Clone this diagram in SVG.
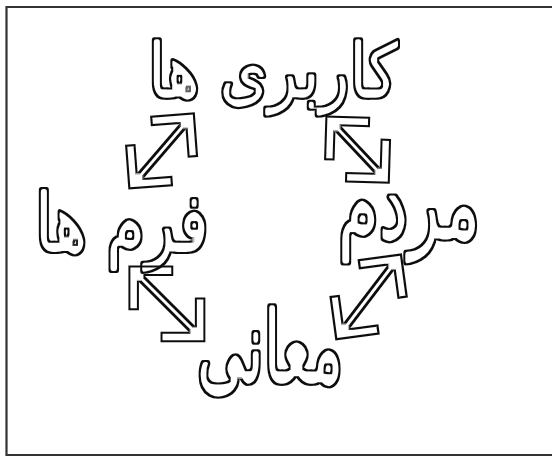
<svg xmlns="http://www.w3.org/2000/svg" width="552" height="458" viewBox="0 0 552 458">
<style>
.frame{fill:none;stroke:#333;stroke-width:2.2}
.word{font-family:"DejaVu Sans",sans-serif;font-size:62px;fill:#000;stroke:#000;stroke-width:4.5;stroke-linejoin:round;stroke-linecap:round;text-anchor:middle}
.shaft{stroke:#000;stroke-width:8.5;fill:none}
.head{stroke:#000;stroke-width:10.5;fill:none;stroke-linejoin:miter;stroke-miterlimit:4}
</style>
<defs>
<filter id="hollow" filterUnits="userSpaceOnUse" x="0" y="0" width="552" height="458">
<feMorphology in="SourceAlpha" operator="erode" radius="1.8" result="inner"/>
<feComposite in="SourceAlpha" in2="inner" operator="out" result="ring"/>
<feFlood flood-color="#111"/>
<feComposite in2="ring" operator="in"/>
</filter>
</defs>
<rect width="552" height="458" fill="#fff"/>
<path class="frame" d="M553 7H6.5V455H553"/>
<g id="connectors" filter="url(#hollow)">
<g transform="translate(128 190) rotate(-49.3)">
<line class="shaft" x1="8" y1="0" x2="95" y2="0"/>
<polyline class="head" points="36,-28 8,0 36,28"/>
<polyline class="head" points="67,-28 95,0 67,28"/>
</g>
<g transform="translate(325 115) rotate(46.7)">
<line class="shaft" x1="8" y1="0" x2="87" y2="0"/>
<polyline class="head" points="36,-28 8,0 36,28"/>
<polyline class="head" points="59,-28 87,0 59,28"/>
</g>
<g transform="translate(128 265) rotate(45)">
<line class="shaft" x1="8" y1="0" x2="102" y2="0"/>
<polyline class="head" points="36,-28 8,0 36,28"/>
<polyline class="head" points="74,-28 102,0 74,28"/>
</g>
<g transform="translate(335 341) rotate(-52.7)">
<line class="shaft" x1="8" y1="0" x2="103" y2="0"/>
<polyline class="head" points="36,-28 8,0 36,28"/>
<polyline class="head" points="75,-28 103,0 75,28"/>
</g>
</g>
<g id="node-karbariha" filter="url(#hollow)"><text class="word" transform="translate(273 97) scale(1 1.2)">کاربری ها</text></g>
<g id="node-mardom" filter="url(#hollow)"><text class="word" style="font-size:66px" transform="translate(409 238) scale(1 1.5)">مردم</text></g>
<g id="node-maani" filter="url(#hollow)"><text class="word" style="font-size:60px" transform="translate(270 382) scale(1 1.65)">معانی</text></g>
<g id="node-formha" filter="url(#hollow)"><text class="word" transform="translate(122 251) scale(1 1.3)">فرم ها</text></g>
</svg>
